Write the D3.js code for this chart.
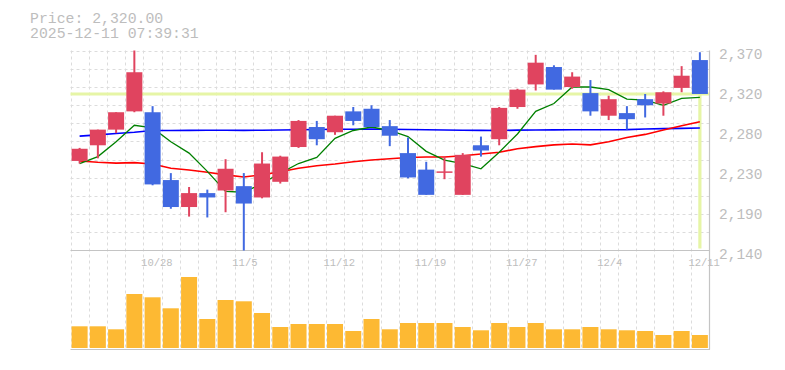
<!DOCTYPE html>
<html><head><meta charset="utf-8">
<script src="https://cdn.jsdelivr.net/npm/d3@7"></script>
<style>
html,body{margin:0;padding:0;background:#fff;}
svg{display:block;}
text{font-family:"Liberation Mono","DejaVu Sans Mono",monospace;fill:#bdbdbd;}
</style></head><body>
<svg id="c" width="785" height="370"></svg>
<script>
const dates = ["10/22","10/23","10/24","10/27","10/28","10/29","10/30","10/31","11/4","11/5",
  "11/6","11/7","11/10","11/11","11/12","11/13","11/14","11/17","11/18","11/19",
  "11/20","11/21","11/25","11/26","11/27","11/28","12/1","12/2","12/3","12/4",
  "12/5","12/8","12/9","12/10","12/11"];
const opens  = [2243,2261,2279,2300,2299,2221,2190,2206,2209,2214,2201,2219,2259,2282,2276,2300,2303,2283,2252,2233,2230,2204,2261,2268,2305,2331,2351,2328,2321,2295,2298,2314,2309,2327,2359];
const highs  = [2258,2279,2299,2370,2306,2229,2213,2210,2245,2229,2253,2249,2290,2289,2295,2305,2307,2290,2270,2242,2248,2252,2271,2305,2326,2365,2353,2345,2336,2318,2306,2320,2323,2352,2368];
const lows   = [2240,2246,2275,2299,2215,2188,2179,2178,2184,2140,2200,2217,2258,2261,2273,2284,2282,2260,2223,2204,2222,2204,2248,2261,2303,2324,2325,2326,2295,2290,2279,2293,2295,2322,2320];
const closes = [2257,2279,2299,2345,2216,2190,2206,2201,2234,2194,2240,2248,2289,2268,2295,2289,2282,2272,2224,2204,2231,2250,2255,2304,2325,2356,2325,2340,2300,2314,2291,2307,2322,2341,2320];
const volumes = [21700,21700,18700,54000,50700,39700,71000,29000,48000,46700,35000,21000,24000,24000,24000,17000,29000,18700,25000,25000,25000,21000,17700,25000,21000,25000,18700,18700,21000,18700,17700,17000,13000,17000,13000];
const ma5  = [2240,2248,2265,2284,2281,2265,2252,2231,2208,2207,2217,2229,2240,2247,2269,2278,2282,2278,2271,2254,2244,2240,2234,2253,2274,2300,2309,2328,2328,2325,2314,2313,2307,2315,2316];
const ma25 = [2243,2241.5,2240.5,2241,2239.5,2234.5,2232.5,2230,2227,2224.5,2227,2230.5,2234.5,2237.5,2239.5,2242,2244,2245.5,2247,2247.5,2247.5,2249,2251,2253,2257,2259.5,2261.5,2262.5,2261.5,2265,2270,2273.5,2278.5,2283.5,2288];
const ma75 = [2271.5,2273,2274.5,2276,2278,2278,2278.2,2278.3,2278.3,2278.2,2278.3,2278.5,2278.8,2279.2,2279.4,2279.5,2279.6,2279.4,2279.2,2278.9,2278.6,2278.3,2278.1,2278,2278.4,2278.6,2278.7,2278.8,2278.8,2278.9,2279,2279.8,2280.1,2280.4,2280.8];
const xTickLabels = ["10/28","11/5","11/12","11/19","11/27","12/4","12/11"];
const yTickValues = [2140,2186,2232,2278,2324,2370];
const yTickLabels = ["2,140","2,190","2,230","2,280","2,320","2,370"];
const priceTitle = "Price: 2,320.00";
const stampTitle = "2025-12-11 07:39:31";
const lastPrice = 2320;

const svg = d3.select("#c");
const L = 70.5, R = 709, T = 50.5, B = 250.5, VB = 349.5;

const x = d3.scaleBand().domain(dates).range([L, R]).paddingInner(0).paddingOuter(0);
const bw = x.bandwidth();
const cx = d => x(d) + bw / 2;
const y = d3.scaleLinear().domain([2140, 2370]).range([B, T]);
const vy = d3.scaleLinear().domain([0, 97500]).range([348, B]);

// grid
const grid = svg.append("g").attr("stroke", "#dcdcdc").attr("stroke-dasharray", "3,3").attr("stroke-width", 1);
dates.forEach((d, i) => {
  const gx = Math.round(x(d)) + 0.5;
  grid.append("line").attr("x1", gx).attr("x2", gx).attr("y1", T).attr("y2", VB);
});
d3.range(11).forEach(k => {
  const gy = Math.round(T + (B - T) * k / 11) + 0.5;
  grid.append("line").attr("x1", L).attr("x2", R).attr("y1", gy).attr("y2", gy);
});

// frame
const frame = svg.append("g").attr("stroke", "#c4c4c4").attr("stroke-width", 1.2);
frame.append("line").attr("x1", L).attr("x2", R + 1).attr("y1", B).attr("y2", B);
frame.append("line").attr("x1", L).attr("x2", R + 1).attr("y1", VB).attr("y2", VB);
frame.append("line").attr("x1", R + 0.5).attr("x2", R + 0.5).attr("y1", T).attr("y2", VB);

// last price marker
const mk = svg.append("g").attr("stroke", "#e6f5a6").attr("stroke-width", 3.2);
mk.append("line").attr("x1", L).attr("x2", R).attr("y1", y(lastPrice)).attr("y2", y(lastPrice));
mk.append("line").attr("x1", cx(dates[dates.length - 1])).attr("x2", cx(dates[dates.length - 1]))
  .attr("y1", y(lastPrice)).attr("y2", B - 2);

// volume bars
const vw = Math.round(bw * 0.88);
svg.append("g").selectAll("rect").data(volumes).join("rect")
  .attr("x", (v, i) => cx(dates[i]) - vw / 2)
  .attr("y", v => vy(v))
  .attr("width", vw)
  .attr("height", v => 348 - vy(v))
  .attr("fill", "#fdb933");

// moving averages
function maLine(arr, color, w) {
  const line = d3.line().x((v, i) => cx(dates[i])).y(v => y(v));
  svg.append("path").datum(arr).attr("d", line).attr("fill", "none")
    .attr("stroke", color).attr("stroke-width", w);
}
maLine(ma75, "#0000ff", 1.6);
maLine(ma25, "#ff0000", 1.6);
maLine(ma5, "#008000", 1.3);

// candles
const up = "#e0445f", down = "#4169e1";
const cg = svg.append("g");
dates.forEach((d, i) => {
  const col = closes[i] >= opens[i] ? up : down;
  const c = cx(d);
  cg.append("line").attr("x1", c).attr("x2", c).attr("y1", y(highs[i])).attr("y2", y(lows[i]))
    .attr("stroke", col).attr("stroke-width", 2);
  const top = y(Math.max(opens[i], closes[i])), bot = y(Math.min(opens[i], closes[i]));
  cg.append("rect").attr("x", c - vw / 2).attr("y", top).attr("width", vw)
    .attr("height", Math.max(1.5, bot - top)).attr("fill", col);
});

// y axis
const ya = svg.append("g").attr("transform", `translate(${R + 10},0)`)
  .call(d3.axisRight(y).tickValues(yTickValues).tickSize(0).tickPadding(0)
    .tickFormat((v, i) => yTickLabels[i]));
ya.select(".domain").remove();
ya.selectAll("text").attr("dy", null).attr("y", 7.5).attr("x", 0)
  .style("font-size", "14.5px").style("font-family", '"Liberation Mono","DejaVu Sans Mono",monospace')
  .attr("fill", "#bdbdbd");

// x axis labels
const xa = svg.append("g").attr("transform", `translate(0,${B})`)
  .call(d3.axisBottom(x).tickValues(xTickLabels).tickSize(0).tickPadding(0));
xa.select(".domain").remove();
xa.selectAll("text").attr("dy", null).attr("y", 15).attr("x", -11.5).attr("text-anchor", "start")
  .style("font-size", "10.5px").style("font-family", '"Liberation Mono","DejaVu Sans Mono",monospace')
  .attr("fill", "#bdbdbd");

// titles
svg.append("text").attr("x", 30).attr("y", 23).style("font-size", "14.8px").text(priceTitle);
svg.append("text").attr("x", 30).attr("y", 38).style("font-size", "14.8px").text(stampTitle);
</script>
</body></html>
